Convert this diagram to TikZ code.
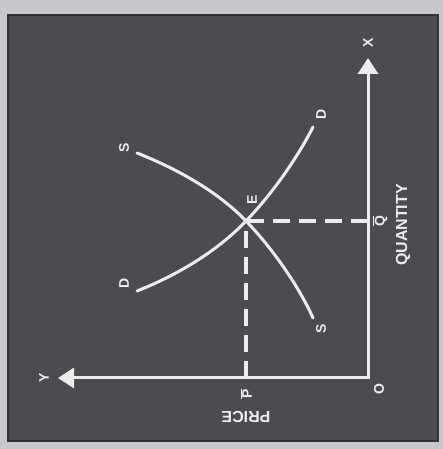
\documentclass[tikz,border=0pt]{standalone}
\usepackage{fontspec}
\setsansfont{Liberation Sans}
\usetikzlibrary{arrows.meta}
\definecolor{board}{RGB}{76,76,80}
\definecolor{paper}{RGB}{200,200,204}
\definecolor{chalk}{RGB}{236,236,236}

\begin{document}
\begin{tikzpicture}[
		x=1pt,y=1pt,
		font=\sffamily\bfseries\fontsize{14}{14}\selectfont,
		axis/.style={chalk,line width=3pt,
			{Triangle[width=20pt,length=16pt]}-{Triangle[width=20pt,length=16pt]}},
		curve/.style={chalk,line width=3pt,line cap=round},
		guide/.style={chalk,line width=4pt,dash pattern=on 17pt off 9pt},
		lbl/.style={text=chalk,inner sep=0pt,rotate=90},
		word/.style={lbl,font=\sffamily\bfseries\fontsize{16}{16}\selectfont},
		]
		\useasboundingbox (0,0) rectangle (443,449);
		\fill[paper] (0,0) rectangle (443,449);
		\filldraw[fill=board,draw=black!80,line width=1.5pt] (8,8) rectangle (438,434);
		
		% axes: quantity runs up, price runs left
		\coordinate (O) at (368,71);
		\coordinate (Xtip) at (368,391);
		\coordinate (Ytip) at (58,71);
		\coordinate (E) at (246,228);
		\coordinate (Qbar) at (368,228);
		\coordinate (Pbar) at (246,71);
		\draw[axis] (Ytip) -- (O) -- (Xtip);
		
		% supply and demand
		\coordinate (S1) at (137,296);
		\coordinate (S2) at (313,131);
		\coordinate (D1) at (137,158);
		\coordinate (D2) at (313,322);
		\draw[curve] (S1) .. controls (190,275) and (225,250) .. (E)
		.. controls (275,198) and (300,160) .. (S2);
		\draw[curve] (D1) .. controls (190,179) and (225,206) .. (E)
		.. controls (275,258) and (300,296) .. (D2);
		
		\draw[guide] (Qbar) -- (E);
		\draw[guide] (Pbar) -- (E);
		
		\node[lbl] (xlab) at (368,406) {X};
		\node[lbl] (ylab) at (44,71) {Y};
		\node[lbl] (olab) at (379,60) {O};
		\node[lbl] (elab) at (252,249) {E};
		\node[lbl] (s1lab) at (124,301) {S};
		\node[lbl] (s2lab) at (321,120) {S};
		\node[lbl] (d1lab) at (124,166) {D};
		\node[lbl] (d2lab) at (321,335) {D};
		\node[lbl] (qlab) at (380,228) {$\overline{\mbox{Q}}$};
		\node[lbl] (plab) at (246,55) {$\overline{\mbox{P}}$};
		\node[word] (quantity) at (403,224) {QUANTITY};
		\node[word,rotate=90] (price) at (246,32) {PRICE};
\end{tikzpicture}
\end{document}
